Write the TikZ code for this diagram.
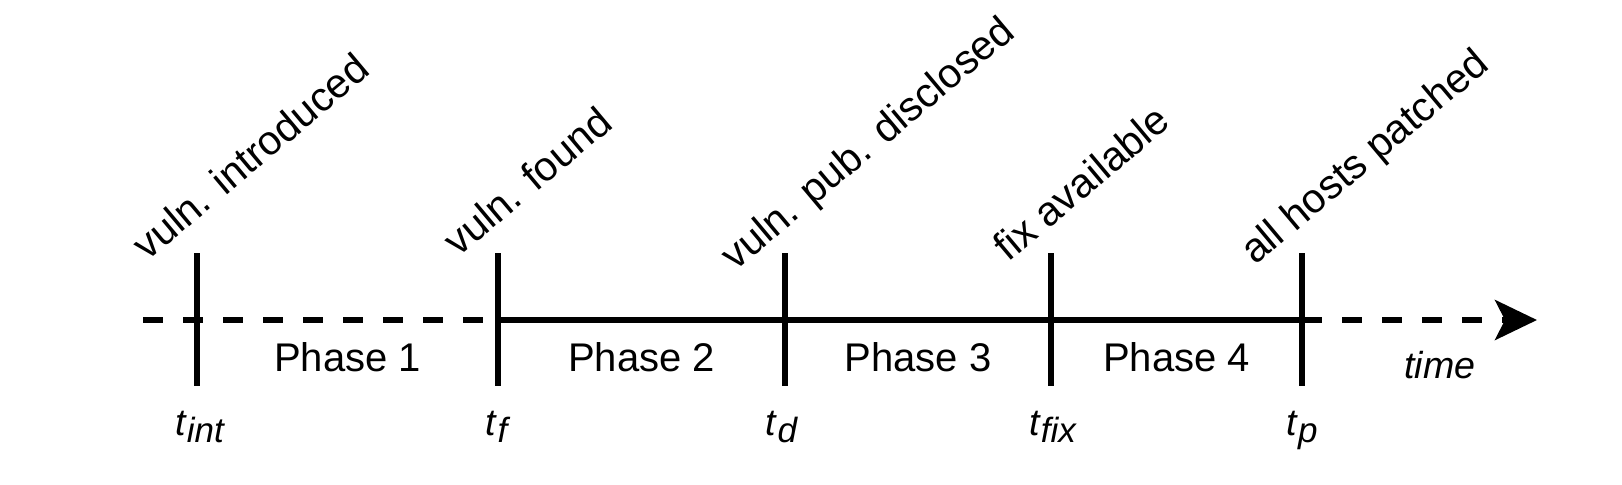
\documentclass[tikz,border=0pt]{standalone}
\usepackage{fontspec}
\setmainfont{Liberation Sans}
\usepackage{tikz}
\usetikzlibrary{arrows.meta,positioning,calc}

\newcommand{\tsub}[1]{\textit{t}\raisebox{-0.21em}{\fontsize{17.5}{20}\selectfont\textit{#1}}}

\begin{document}
\begin{tikzpicture}[x=0.5pt,y=-0.5pt,
  axisline/.style={line width=3pt},
  dashline/.style={line width=3pt,dash pattern=on 10pt off 10pt},
  tick/.style={line width=3pt},
  event/.style={rotate=40,anchor=base west,inner sep=0pt,font=\fontsize{20.5}{24}\selectfont},
  phase/.style={inner sep=0pt,font=\fontsize{20}{24}\selectfont},
  tname/.style={anchor=base,inner sep=0pt,font=\fontsize{18.8}{22}\selectfont}]
\useasboundingbox (0,0) rectangle (1622,484);

% ticks on the time axis
\foreach \n/\x in {int/197,f/498,d/785,fix/1051,p/1302} {
  \coordinate (\n-top) at (\x,253);
  \coordinate (\n-ax) at (\x,320);
  \coordinate (\n-bot) at (\x,386);
  \draw[tick] (\n-top) -- (\n-bot);
}
\coordinate (start) at (143,320);
\coordinate (end) at (1537,320);

\draw[dashline] (start) -- (f-ax);
\draw[axisline] (f-ax) -- (p-ax);
\draw[dashline,-{Stealth[length=21pt,width=20pt,inset=5pt]}] (p-ax) -- (end);

% events
\node[event] (ev-int) at ($(int-top)+(-50,9)$) {vuln. introduced};
\node[event] (ev-f) at ($(f-top)+(-40,5)$) {vuln. found};
\node[event] (ev-d) at ($(d-top)+(-50,19)$) {vuln. pub. disclosed};
\node[event] (ev-fix) at ($(fix-top)+(-43,10)$) {fix available};
\node[event] (ev-p) at ($(p-top)+(-47,13)$) {all hosts patched};

% phases
\node[phase] (ph1) at ($(int-ax)!0.5!(f-ax)+(0,37)$) {Phase 1};
\node[phase] (ph2) at ($(f-ax)!0.5!(d-ax)+(0,37)$) {Phase 2};
\node[phase] (ph3) at ($(d-ax)!0.5!(fix-ax)+(0,37)$) {Phase 3};
\node[phase] (ph4) at ($(fix-ax)!0.5!(p-ax)+(0,37)$) {Phase 4};
\node[tname] (time) at (1440,378) {\textit{time}};

% time points
\node[tname] (t-int) at (200,435) {\tsub{int}};
\node[tname] (t-f) at (498,435) {\tsub{f}};
\node[tname] (t-d) at (782,435) {\tsub{d}};
\node[tname] (t-fix) at (1053,435) {\tsub{fix}};
\node[tname] (t-p) at (1302,435) {\tsub{p}};
\end{tikzpicture}
\end{document}
